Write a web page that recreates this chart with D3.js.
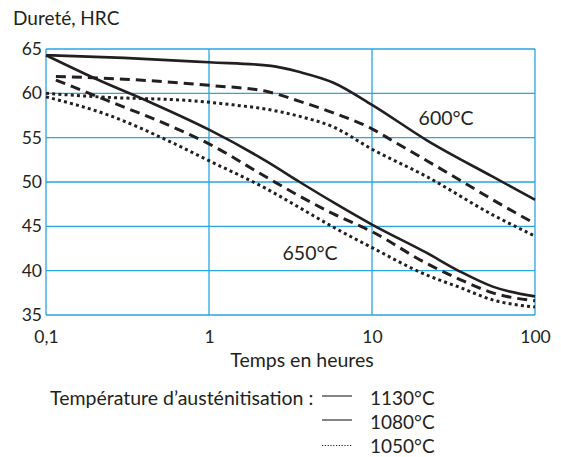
<!DOCTYPE html>
<html>
<head>
<meta charset="utf-8">
<script src="https://cdn.jsdelivr.net/npm/d3@7"></script>
<style>
  html, body { margin: 0; padding: 0; background: #fff; }
  svg text { font-family: Lato, "Open Sans", sans-serif; fill: #231f20; }
</style>
</head>
<body>
<svg id="chart" width="561" height="457"></svg>
<script>
// ---- data (time in hours, hardness HRC) ----
const xTicks = [0.1, 1, 10, 100];
const xTickLabels = ["0,1", "1", "10", "100"];
const yTicks = [35, 40, 45, 50, 55, 60, 65];

const t600_1130 = [0.1, 0.3, 1, 2.4, 3.6, 5.8, 10, 21.7, 55, 100];
const h600_1130 = [64.3, 64.0, 63.5, 63.1, 62.4, 61.2, 58.7, 54.7, 50.6, 48.0];

const t600_1080 = [0.115, 0.3, 1, 2.27, 3.6, 5.8, 10, 13.5, 21.7, 34.7, 55, 100];
const h600_1080 = [61.9, 61.6, 60.9, 60.2, 59.1, 57.8, 56.0, 54.6, 52.4, 50.2, 48.0, 45.3];

const t600_1050 = [0.1, 0.21, 0.87, 1.4, 2.27, 3.6, 5.8, 10, 21.7, 55, 100];
const h600_1050 = [60.0, 59.6, 59.1, 58.7, 58.2, 57.4, 56.2, 53.7, 50.6, 46.3, 43.9];

const t650_1130 = [0.1, 0.21, 0.435, 1, 2.27, 3.6, 5.8, 10, 21.7, 34.7, 55, 100];
const h650_1130 = [64.3, 61.5, 59.0, 55.9, 52.3, 50.0, 47.7, 45.2, 42.0, 39.9, 38.2, 37.1];

const t650_1080 = [0.115, 0.237, 0.6, 1, 2.27, 3.6, 5.8, 10, 21.7, 34.7, 55, 100];
const h650_1080 = [61.5, 59.2, 56.2, 54.3, 50.5, 48.4, 46.4, 44.4, 40.8, 39.0, 37.5, 36.6];

const t650_1050 = [0.1, 0.237, 0.6, 1, 2.27, 3.6, 5.8, 10, 21.7, 34.7, 55, 100];
const h650_1050 = [59.6, 57.6, 54.4, 52.4, 49.2, 47.1, 44.9, 42.6, 39.5, 38.1, 36.7, 35.9];

const seriesNames = ["1130°C", "1080°C", "1050°C"];
const curveLabels = ["600°C", "650°C"];
const labelPos = [[28.5, 56.4], [4.17, 41.2]]; // data coords of the curve labels

// ---- layout ----
const svg = d3.select("#chart");
const M = { left: 46, top: 49, right: 535, bottom: 315 };
const x = d3.scaleLog().domain([0.1, 100]).range([M.left, M.right]);
const y = d3.scaleLinear().domain([35, 65]).range([M.bottom, M.top]);

const ink = "#231f20";
const blue = "#27a6df";

// grid
const g = svg.append("g");
g.selectAll(".vg").data(xTicks).join("line")
  .attr("x1", d => x(d)).attr("x2", d => x(d))
  .attr("y1", M.top).attr("y2", M.bottom)
  .attr("stroke", blue).attr("stroke-width", 1.3);
g.selectAll(".hg").data(yTicks).join("line")
  .attr("x1", M.left).attr("x2", M.right)
  .attr("y1", d => y(d)).attr("y2", d => y(d))
  .attr("stroke", blue).attr("stroke-width", 1.3);

// axes labels via d3 axes (no domain/tick lines)
const xAxis = d3.axisBottom(x).tickValues(xTicks).tickFormat((d, i) => xTickLabels[i]).tickSize(0).tickPadding(0);
const xa = svg.append("g").attr("transform", `translate(0,${M.bottom})`).call(xAxis);
xa.select(".domain").remove();
xa.selectAll("text").attr("font-size", 17.5).attr("dy", "1.6em").attr("fill", ink)
  .attr("font-family", "Lato, sans-serif");

const yAxis = d3.axisLeft(y).tickValues(yTicks).tickSize(0).tickPadding(4);
const ya = svg.append("g").attr("transform", `translate(${M.left},0)`).call(yAxis);
ya.select(".domain").remove();
ya.selectAll("text").attr("font-size", 17.5).attr("fill", ink)
  .attr("font-family", "Lato, sans-serif");

// curves
const line = d3.line().x(d => x(d[0])).y(d => y(d[1])).curve(d3.curveMonotoneX);
const zip = (t, h) => t.map((v, i) => [v, h[i]]);
const curves = [
  { d: zip(t600_1130, h600_1130), s: 0 },
  { d: zip(t600_1080, h600_1080), s: 1 },
  { d: zip(t600_1050, h600_1050), s: 2 },
  { d: zip(t650_1130, h650_1130), s: 0 },
  { d: zip(t650_1080, h650_1080), s: 1 },
  { d: zip(t650_1050, h650_1050), s: 2 },
];
const dash = ["none", "10,6", "3,3.2"];
const width = [2.6, 3, 3];
svg.append("g").selectAll("path").data(curves).join("path")
  .attr("d", c => line(c.d))
  .attr("fill", "none").attr("stroke", ink)
  .attr("stroke-width", c => width[c.s])
  .attr("stroke-dasharray", c => dash[c.s]);

// curve labels
svg.append("g").selectAll("text").data(curveLabels).join("text")
  .attr("x", (d, i) => x(labelPos[i][0])).attr("y", (d, i) => y(labelPos[i][1]))
  .attr("text-anchor", "middle").attr("font-size", 19.5).text(d => d);

// titles
svg.append("text").attr("x", 13).attr("y", 25).attr("font-size", 19).text("Dureté, HRC");
svg.append("text").attr("x", 302).attr("y", 367)
  .attr("text-anchor", "middle").attr("font-size", 19.5).text("Temps en heures");

// legend
const lg = svg.append("g");
lg.append("text").attr("x", 50).attr("y", 405).attr("font-size", 19.5).text("Température d’austénitisation :");
const legendDash = ["none", "none", "1.2,1.6"];
seriesNames.forEach((name, i) => {
  const base = 405 + i * 24;
  const ly = base - 9 + (i === 2 ? 1.5 : 0);
  lg.append("line").attr("x1", 322).attr("x2", 352).attr("y1", ly).attr("y2", ly)
    .attr("stroke", ink).attr("stroke-width", 1.1).attr("stroke-dasharray", legendDash[i]);
  lg.append("text").attr("x", 370).attr("y", base).attr("font-size", 19).text(name);
});
</script>
</body>
</html>
